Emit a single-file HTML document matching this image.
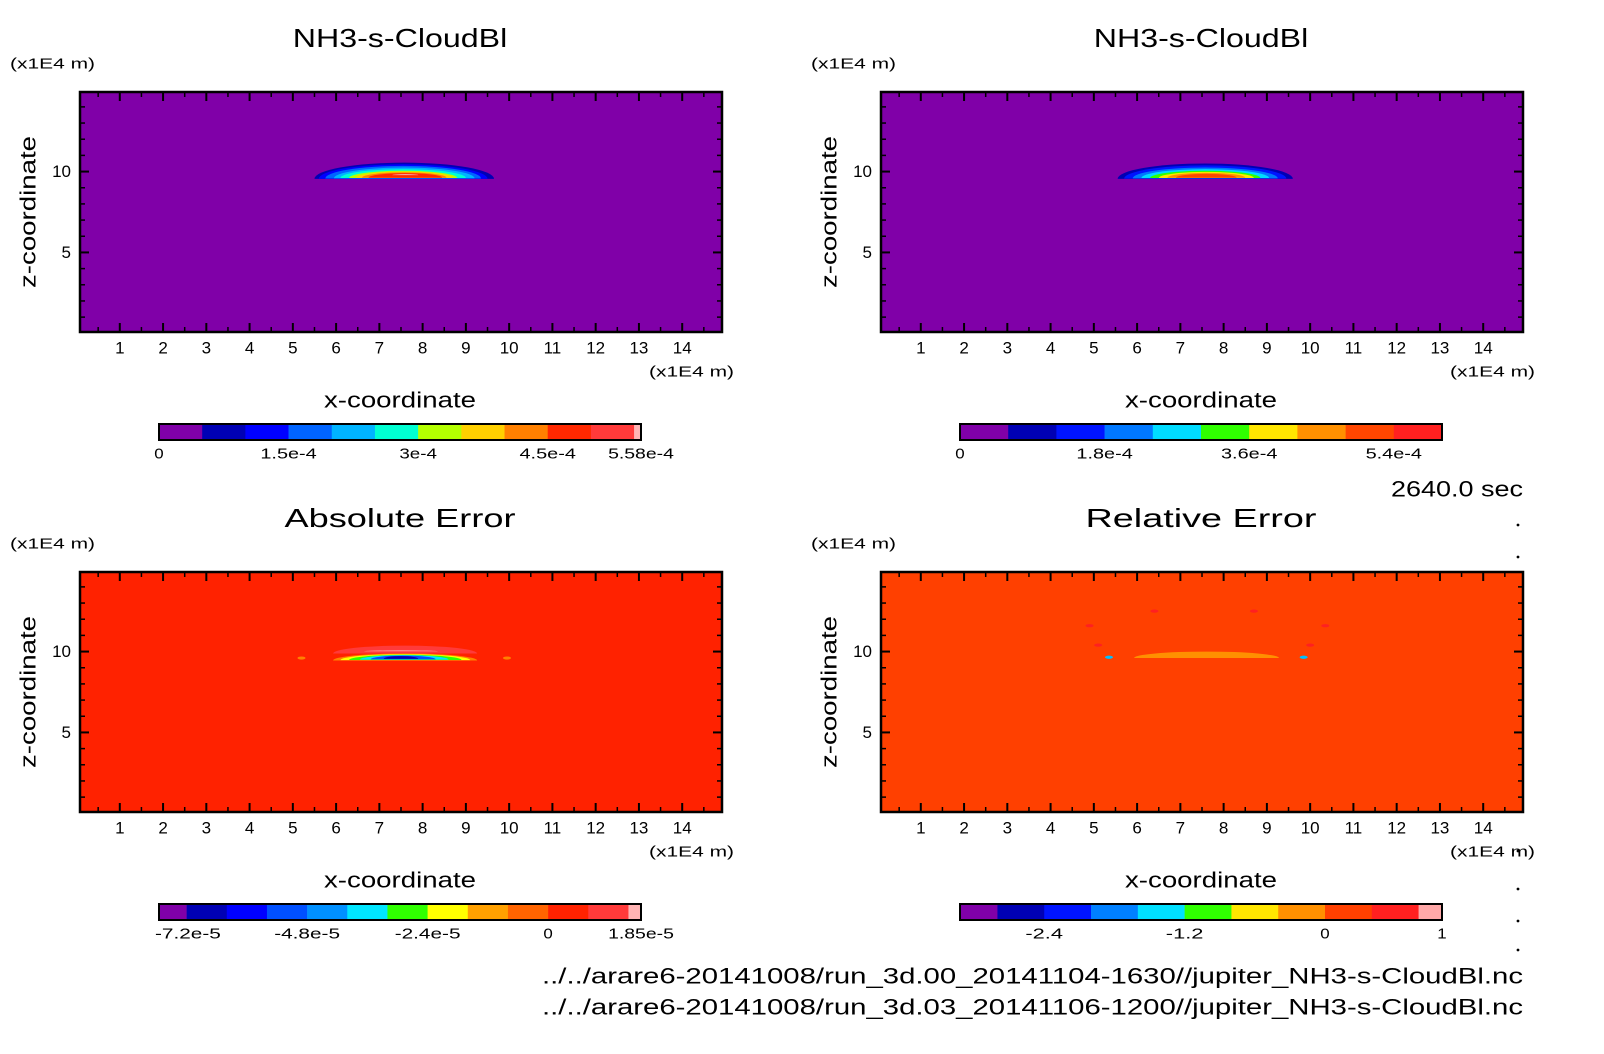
<!DOCTYPE html>
<html><head><meta charset="utf-8"><style>
html,body{margin:0;padding:0;background:#fff;}
svg{display:block;font-family:"Liberation Sans",sans-serif;}
</style></head><body>
<svg id="fig" width="1604" height="1054" viewBox="0 0 1604 1054" xmlns="http://www.w3.org/2000/svg"></svg>
<script>
// ---- data ----
const xDomain = [0.08, 14.92];
const zDomain = [0.08, 14.92];
const xTicks = [1,2,3,4,5,6,7,8,9,10,11,12,13,14];
const zTicks = [5,10];
const titles = ["NH3-s-CloudBl","NH3-s-CloudBl","Absolute Error","Relative Error"];
const cb1Colors = ["#8000a8","#0000b4","#0000ff","#0064ff","#00b4ff","#00ffd2","#b4ff00","#ffd000","#ff8000","#ff2800","#ff3a3a","#ffb4b4"];
const cb1Bounds = [0,0.5e-4,1e-4,1.5e-4,2e-4,2.5e-4,3e-4,3.5e-4,4e-4,4.5e-4,5e-4,5.5e-4,5.58e-4];
const cb1Labels = ["0","1.5e-4","3e-4","4.5e-4","5.58e-4"];
const cb1LabelVals = [0,1.5e-4,3e-4,4.5e-4,5.58e-4];
const cb2Colors = ["#8000a8","#0000b4","#0014ff","#0078ff","#00dcff","#30ff00","#ffe600","#ff9000","#ff4600","#ff2020"];
const cb2Bounds = [0,0.6e-4,1.2e-4,1.8e-4,2.4e-4,3e-4,3.6e-4,4.2e-4,4.8e-4,5.4e-4,6e-4];
const cb2Labels = ["0","1.8e-4","3.6e-4","5.4e-4"];
const cb2LabelVals = [0,1.8e-4,3.6e-4,5.4e-4];
const cb3Colors = ["#8000a8","#0000b4","#0000ff","#0050ff","#0090ff","#00e6ff","#30ff00","#ffff00","#ffa000","#ff6400","#ff2200","#ff3a3a","#ffb4b4"];
const cb3Bounds = [-7.75e-5,-7.2e-5,-6.4e-5,-5.6e-5,-4.8e-5,-4.0e-5,-3.2e-5,-2.4e-5,-1.6e-5,-0.8e-5,0,0.8e-5,1.6e-5,1.85e-5];
const cb3Labels = ["-7.2e-5","-4.8e-5","-2.4e-5","0","1.85e-5"];
const cb3LabelVals = [-7.2e-5,-4.8e-5,-2.4e-5,0,1.85e-5];
const cb4Colors = ["#8000a8","#0000b4","#0014ff","#0080ff","#00e0ff","#30ff00","#ffe600","#ff9000","#ff4000","#ff2020","#ffa8a8"];
const cb4Bounds = [-3.12,-2.8,-2.4,-2.0,-1.6,-1.2,-0.8,-0.4,0,0.4,0.8,1.0];
const cb4Labels = ["-2.4","-1.2","0","1"];
const cb4LabelVals = [-2.4,-1.2,0,1];
// cloud domes: [x0, x1, zBottom, zTop]
const p1Domes = [[5.5,9.65,9.55,10.55],[5.6,9.5,9.55,10.45],[5.75,9.35,9.57,10.35],[5.95,9.2,9.58,10.25],[6.1,9.0,9.6,10.15],[6.3,8.8,9.6,10.05],[6.45,8.7,9.6,10.0],[6.6,8.55,9.62,9.95],[6.75,8.45,9.62,9.9],[7.3,7.9,9.78,9.84]];
const p1Cols = ["#0000b4","#0000ff","#0064ff","#00b4ff","#00ffd2","#b4ff00","#ffd000","#ff8000","#ff2800","#ffb4b4"];
const p2Domes = [[5.55,9.6,9.55,10.5],[5.7,9.45,9.56,10.38],[5.9,9.25,9.58,10.25],[6.1,9.05,9.6,10.15],[6.3,8.85,9.6,10.05],[6.5,8.7,9.6,9.98],[6.7,8.5,9.62,9.92],[6.9,8.3,9.62,9.86]];
const p2Cols = ["#0000b4","#0014ff","#0078ff","#00dcff","#30ff00","#ffe600","#ff9000","#ff4600"];
const p3Domes = [[5.93,9.26,9.88,10.37],[6.65,8.35,10.02,10.07],[5.93,9.26,9.45,9.88],[6.1,9.1,9.47,9.84],[6.3,8.9,9.48,9.8],[6.55,8.6,9.5,9.78],[6.8,8.3,9.52,9.75],[7.1,7.9,9.55,9.72]];
const p3Cols = ["#ff3a3a","#ffb4b4","#ff8000","#ffff00","#30ff00","#00e6ff","#0050ff","#0000b4"];
const p4Domes = [[5.93,9.28,9.6,10.0]];
const p4Cols = ["#ff9000"];
const p4Spots = [[5.35,9.65,"#00c0ff"],[9.85,9.65,"#00c0ff"],[6.4,12.5,"#ff2020"],[8.7,12.5,"#ff2020"],[4.9,11.6,"#ff2020"],[10.35,11.6,"#ff2020"],[5.1,10.4,"#ff2020"],[10.0,10.4,"#ff2020"]];
const p3Spots = [[5.2,9.6,"#ff8000"],[9.95,9.6,"#ff8000"]];

const NS="http://www.w3.org/2000/svg";
const svg=document.getElementById('fig');
function mk(tag,attrs,parent){const e=document.createElementNS(NS,tag);for(const k in attrs)e.setAttribute(k,attrs[k]);(parent||svg).appendChild(e);return e;}
function txt(s,x,y,size,anchor,parent,extra){const t=mk('text',Object.assign({x:x,y:y,'font-size':size,'text-anchor':anchor||'middle','dominant-baseline':'central',fill:'#000'},extra||{}),parent);t.textContent=s;return t;}

const PW=642, PH=240;
function panel(ox,oy,idx,bg,domes,cols,spots,cbColors,cbBounds,cbLabels,cbLabelVals){
  const g=mk('g',{});
  
  
  const L=80+ox, T=92+oy;
  const xs=v=>L+(v-xDomain[0])/(xDomain[1]-xDomain[0])*PW;
  const zs=v=>T+PH-(v-zDomain[0])/(zDomain[1]-zDomain[0])*PH;
  let t=txt(titles[idx],400+ox,38+oy,26,'middle',g,{textLength:titles[idx].length*16.5,lengthAdjust:'spacingAndGlyphs'});
  
  t=txt('(x1E4 m)',10+ox,64+oy,15,'start',g,{textLength:85,lengthAdjust:'spacingAndGlyphs'});
  
  const bgR=mk('rect',{x:L,y:T,width:PW,height:PH,fill:bg},g);
  
  domes.forEach((d,i)=>{
    const x0=xs(d[0]),x1=xs(d[1]),zb=zs(d[2]),zt=zs(d[3]);
    const rx=(x1-x0)/2, ry=zb-zt;
    const p=mk('path',{d:`M${x0},${zb} A${rx},${ry} 0 0 1 ${x1},${zb} Z`,fill:cols[i]},g);
    
  });
  spots.forEach(s=>{
    const e=mk('ellipse',{cx:xs(s[0]),cy:zs(s[1]),rx:4,ry:1.6,fill:s[2]},g);
    
  });
  for(let v=0.5; v<15; v+=0.5){
    const maj=Number.isInteger(v), len=maj?9:5, x=xs(v);
    mk('line',{x1:x,y1:T+PH,x2:x,y2:T+PH-len,stroke:'#000','stroke-width':maj?2:1.5},g);
    mk('line',{x1:x,y1:T,x2:x,y2:T+len,stroke:'#000','stroke-width':maj?2:1.5},g);
  }
  for(let v=1; v<15; v++){
    const maj=zTicks.includes(v), len=maj?9:5, y=zs(v);
    mk('line',{x1:L,y1:y,x2:L+len,y2:y,stroke:'#000','stroke-width':maj?2:1.5},g);
    mk('line',{x1:L+PW,y1:y,x2:L+PW-len,y2:y,stroke:'#000','stroke-width':maj?2:1.5},g);
  }
  const fr=mk('rect',{x:L,y:T,width:PW,height:PH,fill:'none',stroke:'#000','stroke-width':2.5},g);
  
  xTicks.forEach(v=>{const tt=txt(String(v),xs(v),348+oy,17,'middle',g);});
  zTicks.forEach(v=>{const tt=txt(String(v),71+ox,zs(v),17,'end',g);});
  t=txt('(x1E4 m)',734+ox,372+oy,15,'end',g,{textLength:85,lengthAdjust:'spacingAndGlyphs'});
  
  t=txt('x-coordinate',400+ox,400+oy,22,'middle',g,{textLength:152,lengthAdjust:'spacingAndGlyphs'});
  
  t=txt('z-coordinate',0,0,22,'middle',g,{textLength:152,lengthAdjust:'spacingAndGlyphs',transform:`translate(${28+ox},${212+oy}) rotate(-90)`});
  
  const cbL=159+ox, cbR=641+ox, cbT=424+oy, cbH=16;
  const lo=cbBounds[0], hi=cbBounds[cbBounds.length-1];
  const cs=v=>cbL+(v-lo)/(hi-lo)*(cbR-cbL);
  const cbg=mk('g',{},g);
  
  cbColors.forEach((c,i)=>{
    const r=mk('rect',{x:cs(cbBounds[i]),y:cbT,width:cs(cbBounds[i+1])-cs(cbBounds[i])+0.3,height:cbH,fill:c},cbg);
    
  });
  mk('rect',{x:cbL,y:cbT,width:cbR-cbL,height:cbH,fill:'none',stroke:'#000','stroke-width':2},cbg);
  cbLabels.forEach((s,i)=>{
    let x=cs(cbLabelVals[i]);
    const w=s.length*9.4;
    if(x-w/2<cbL-4 && s.length>1) x=cbL+w/2-4;
    const tt=txt(s,x,454+oy,15,'middle',cbg,{textLength:w,lengthAdjust:'spacingAndGlyphs'});
    
  });
}
panel(0,0,0,'#8000a8',p1Domes,p1Cols,[],cb1Colors,cb1Bounds,cb1Labels,cb1LabelVals);
panel(801,0,1,'#8000a8',p2Domes,p2Cols,[],cb2Colors,cb2Bounds,cb2Labels,cb2LabelVals);
panel(0,480,2,'#ff2200',p3Domes,p3Cols,p3Spots,cb3Colors,cb3Bounds,cb3Labels,cb3LabelVals);
panel(801,480,3,'#ff4000',p4Domes,p4Cols,p4Spots,cb4Colors,cb4Bounds,cb4Labels,cb4LabelVals);

let t=txt('2640.0 sec',1523,489,22,'end',svg,{textLength:132,lengthAdjust:'spacingAndGlyphs'});

t=txt('../../arare6-20141008/run_3d.00_20141104-1630//jupiter_NH3-s-CloudBl.nc',1523,976,22,'end',svg,{textLength:981,lengthAdjust:'spacingAndGlyphs'});

t=txt('../../arare6-20141008/run_3d.03_20141106-1200//jupiter_NH3-s-CloudBl.nc',1523,1007,22,'end',svg,{textLength:981,lengthAdjust:'spacingAndGlyphs'});

[525,557,851,889,921,950].forEach(y=>{
  const c=mk('circle',{cx:1518,cy:y,r:1.4,fill:'#000'});
  
});
</script>
</body></html>
